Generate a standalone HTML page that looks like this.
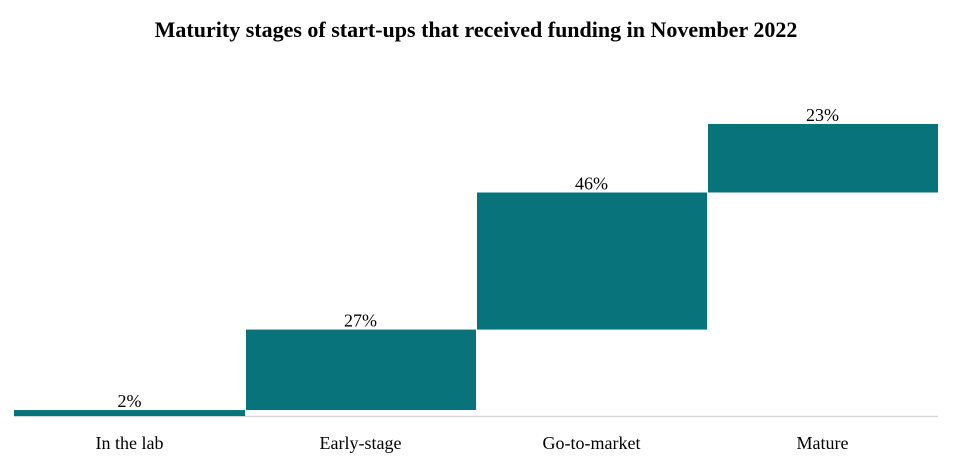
<!DOCTYPE html>
<html><head><meta charset="utf-8"><style>
body{margin:0;background:#fff;}
svg text{font-family:"Liberation Serif",serif;}
</style></head><body>
<svg id="chart" width="953" height="468" xmlns="http://www.w3.org/2000/svg">
<text x="476" y="37" text-anchor="middle" font-size="22" font-weight="bold" fill="#000">Maturity stages of start-ups that received funding in November 2022</text>
<line x1="14" y1="416.5" x2="938" y2="416.5" stroke="#d9d9d9" stroke-width="1.5"/>
<g id="bars"></g>
</svg>
<script>
const categories=["In the lab","Early-stage","Go-to-market","Mature"];
const values=[2,27,46,23];
const valueLabels=["2%","27%","46%","23%"];
const left=14,right=938,base=416,scale=2.98;
const bw=(right-left)/categories.length;
const x=i=>left+i*bw;
const y=v=>base-v*scale;
const g=document.getElementById('bars');
const ns="http://www.w3.org/2000/svg";
let cum=0;
categories.forEach((c,i)=>{
  const y0=y(cum),y1=y(cum+values[i]);
  const r=document.createElementNS(ns,'rect');
  
  
  r.setAttribute('x',x(i)+(i?1:0));r.setAttribute('width',bw-(i?1:0));
  r.setAttribute('y',y1);r.setAttribute('height',y0-y1);
  r.setAttribute('fill','#08737a');
  g.appendChild(r);
  const t=document.createElementNS(ns,'text');
  
  
  t.setAttribute('x',x(i)+bw/2);t.setAttribute('y',y1-3);
  t.setAttribute('text-anchor','middle');t.setAttribute('font-size','18');
  t.textContent=valueLabels[i];g.appendChild(t);
  const l=document.createElementNS(ns,'text');
  
  
  l.setAttribute('x',x(i)+bw/2);l.setAttribute('y',449);
  l.setAttribute('text-anchor','middle');l.setAttribute('font-size','18');
  l.textContent=c;g.appendChild(l);
  cum+=values[i];
});
</script>
</body></html>
